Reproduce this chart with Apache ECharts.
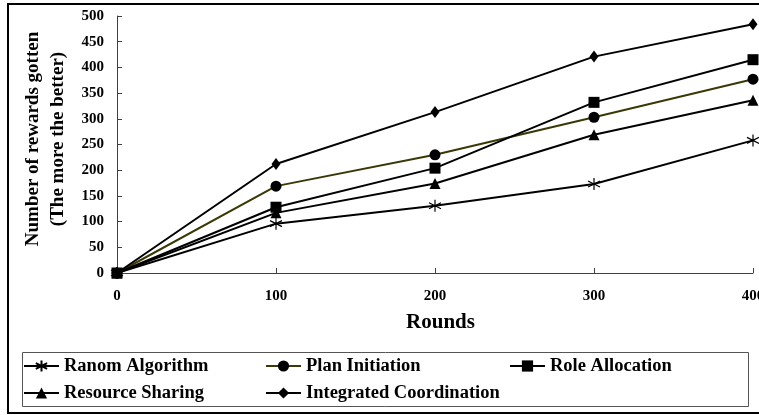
<!DOCTYPE html>
<html>
<head>
<meta charset="utf-8">
<script src="https://cdn.jsdelivr.net/npm/echarts@6/dist/echarts.min.js"></script>
<style>
  html, body { margin: 0; padding: 0; background: #fff; overflow: hidden; }
  #chart { width: 759px; height: 415px; }
</style>
</head>
<body>
<div id="chart"></div>
<script>
// Rounds on the x axis
const rounds = ['0', '100', '200', '300', '400'];

// Number of rewards gotten per strategy
const randomAlgorithm        = [0, 96, 131, 173, 258];
const planInitiation         = [0, 169, 230, 303, 377];
const roleAllocation         = [0, 128, 204, 332, 415];
const resourceSharing        = [0, 117, 174, 269, 336];
const integratedCoordination = [0, 212, 313, 421, 484];

const seriesNames = ['Ranom Algorithm', 'Plan Initiation', 'Role Allocation', 'Resource Sharing', 'Integrated Coordination'];

// y axis range
const yMin = 0, yMax = 500, yStep = 50;

const FONT = "'Liberation Serif', 'Times New Roman', serif";
const asterisk = 'path://M10 0L10 20M1 5L19 15M1 15L19 5';

function lineSeries(name, data, symbol, size, lineColor) {
  return {
    name: name,
    type: 'line',
    data: data,
    symbol: symbol,
    symbolSize: size,
    showAllSymbol: true,
    lineStyle: { color: lineColor || '#000', width: 2 },
    itemStyle: symbol === asterisk
      ? { color: '#000', borderColor: '#000', borderWidth: 1.2 }
      : { color: '#000', borderWidth: 0 },
    emphasis: { disabled: true },
    animation: false
  };
}

const legendText = { fontFamily: FONT, fontWeight: 'bold', fontSize: 18.5, color: '#000', lineHeight: 20 };
function legendCol(left, names) {
  return {
    orient: 'vertical', left: left, top: 356, itemGap: 7,
    itemWidth: 35, itemHeight: 14, padding: 0,
    textStyle: legendText, data: names, selectedMode: false
  };
}

const chart = echarts.init(document.getElementById('chart'), null, { renderer: 'canvas' });
chart.setOption({
  backgroundColor: '#fff',
  animation: false,
  grid: { left: 117, right: 6, top: 16, bottom: 142, containLabel: false, outerBoundsMode: 'none' },
  xAxis: {
    type: 'category',
    data: rounds,
    boundaryGap: false,
    name: 'Rounds',
    nameLocation: 'middle',
    nameGap: 39,
    nameTextStyle: { fontFamily: FONT, fontWeight: 'bold', fontSize: 21, color: '#000', padding: [0, 0, 0, 11] },
    axisLine: { lineStyle: { color: '#404040', width: 1 } },
    axisTick: { inside: true, length: 5, alignWithLabel: true, lineStyle: { color: '#404040' } },
    axisLabel: { fontFamily: FONT, fontWeight: 'bold', fontSize: 15, color: '#000', margin: 16, hideOverlap: false },
    splitLine: { show: false }
  },
  yAxis: {
    type: 'value',
    min: yMin, max: yMax, interval: yStep,
    axisLine: { show: true, lineStyle: { color: '#404040', width: 1 } },
    axisTick: { show: true, inside: true, length: 5, lineStyle: { color: '#404040' } },
    axisLabel: { fontFamily: FONT, fontWeight: 'bold', fontSize: 15, color: '#000', margin: 13 },
    splitLine: { show: false }
  },
  legend: [
    legendCol(23, [seriesNames[0], seriesNames[3]]),
    legendCol(265, [seriesNames[1], seriesNames[4]]),
    legendCol(509, [seriesNames[2]])
  ],
  graphic: [
    { type: 'rect', silent: true, shape: { x: 8, y: 4, width: 760, height: 409 },
      style: { fill: 'none', stroke: '#000', lineWidth: 2 } },
    { type: 'rect', silent: true, shape: { x: 22.5, y: 352.5, width: 726, height: 54 },
      style: { fill: 'none', stroke: '#555', lineWidth: 1 } },
    { type: 'text', silent: true, x: 46, y: 139, rotation: Math.PI / 2,
      style: { text: 'Number of rewards gotten\n(The more the better)', fill: '#000',
               font: 'bold 19px ' + FONT, align: 'center', verticalAlign: 'middle',
               textAlign: 'center', textVerticalAlign: 'middle', lineHeight: 25 } }
  ],
  series: [
    lineSeries(seriesNames[0], randomAlgorithm, asterisk, 12),
    lineSeries(seriesNames[1], planInitiation, 'circle', 11, '#3a3806'),
    lineSeries(seriesNames[2], roleAllocation, 'rect', 11),
    lineSeries(seriesNames[3], resourceSharing, 'triangle', 11),
    lineSeries(seriesNames[4], integratedCoordination, 'diamond', [9, 12])
  ]
});
</script>
</body>
</html>
